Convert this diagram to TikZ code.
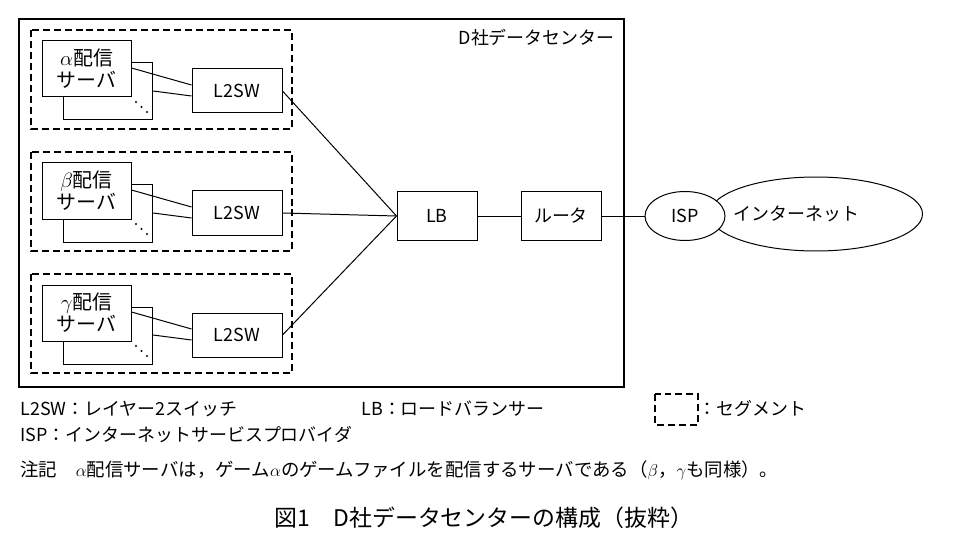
\documentclass[tikz,border=0pt]{standalone}
\usepackage{fontspec}
\setmainfont{Noto Sans CJK JP}
\usetikzlibrary{positioning,shapes.geometric}
\tikzset{
    box/.style={draw, line width=1pt, fill=white, inner sep=0pt},
    seg/.style={draw, line width=1.3pt, dash pattern=on 7pt off 4pt},
    link/.style={line width=1pt},
}
\begin{document}
\begin{tikzpicture}[x=1bp, y=-1bp, font=\fontsize{18}{20}\selectfont]
    \useasboundingbox (0,0) rectangle (968,544);

    % data center
    \draw[line width=1.2pt] (19,19) rectangle (624,387);
    \node[anchor=east] (dc) at (618,38) {D社データセンター};

    % segments
    \foreach \i/\g/\dy in {1/\alpha/0, 2/\beta/122, 3/\gamma/244} {
        \draw[seg] (31,30+\dy) rectangle (292,129+\dy);
        \node[box, minimum width=89bp, minimum height=57bp] (bak\i) at (108,91.5+\dy) {};
        \node[box, minimum width=89bp, minimum height=56bp, align=center, font=\fontsize{20}{22}\selectfont] (srv\i) at (86.5,69+\dy) {$\g$配信\\サーバ};
        \node[box, minimum width=90bp, minimum height=44bp] (sw\i) at (237,91+\dy) {L2SW};
        \foreach \k in {0,1,2} \fill (136+5.5*\k,102+5*\k+\dy) circle (1.1bp);
        \draw[link] ([yshift=1bp]srv\i.east) -- ([yshift=6bp]sw\i.west);
        \draw[link] ([yshift=0.5bp]bak\i.east) -- ([yshift=-5bp]sw\i.west);
    }

    \node[box, minimum width=80bp, minimum height=48bp] (lb) at (437,216) {LB};
    \node[box, minimum width=80bp, minimum height=48bp] (rt) at (561,216) {ルータ};
    \node[draw, ellipse, line width=1pt, minimum width=213bp, minimum height=74bp] (net) at (816,214) {};
    \node[draw, ellipse, line width=1pt, fill=white, minimum width=80bp, minimum height=49bp] (isp) at (685,216) {ISP};
    \node[anchor=west] (nettxt) at (730,214) {インターネット};

    \foreach \i in {1,2,3} \draw[link] (sw\i.east) -- (lb.west);
    \draw[link] (lb) -- (rt);
    \draw[link] (rt) -- (isp);

    % legend
    \node[anchor=west] (l1) at (17,409) {L2SW：レイヤー2スイッチ};
    \node[anchor=west] (l2) at (358,409) {LB：ロードバランサー};
    \draw[seg, line width=1.2pt] (655,394) rectangle (698,425);
    \node[anchor=west] (l3) at (695,409) {：セグメント};
    \node[anchor=west] (l4) at (17,435) {ISP：インターネットサービスプロバイダ};
    \node[anchor=west, font=\fontsize{18.5}{20}\selectfont] (note) at (17,470) {注記\quad $\alpha$配信サーバは，ゲーム$\alpha$のゲームファイルを配信するサーバである（$\beta$，$\gamma$も同様）。};
    \node[font=\fontsize{23}{25}\selectfont] (cap) at (484,518) {図1\quad D社データセンターの構成（抜粋）};
\end{tikzpicture}
\end{document}
